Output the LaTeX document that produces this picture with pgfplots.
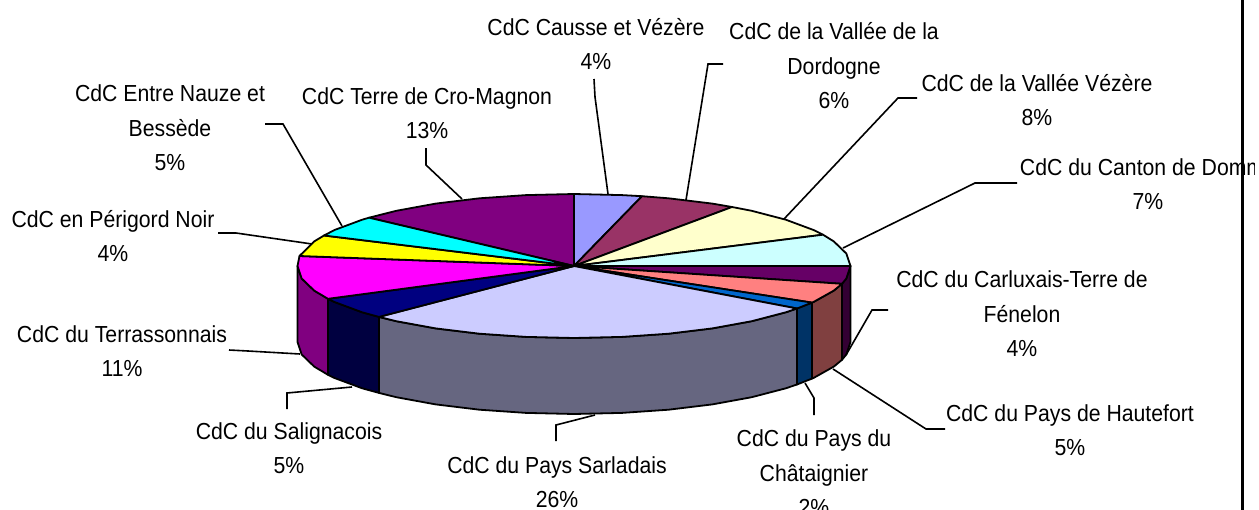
\documentclass[border=0pt]{standalone}
\usepackage{fontspec}
\setmainfont[FakeStretch=0.915]{Liberation Sans}
\usepackage{pgfplots}
\pgfplotsset{compat=1.18}
\definecolor{cA}{HTML}{9999FF}\definecolor{cB}{HTML}{993366}\definecolor{cC}{HTML}{FFFFCC}
\definecolor{cD}{HTML}{CCFFFF}\definecolor{cE}{HTML}{660066}\definecolor{cF}{HTML}{FF8080}
\definecolor{cG}{HTML}{0066CC}\definecolor{cH}{HTML}{CCCCFF}\definecolor{cI}{HTML}{000080}
\definecolor{cJ}{HTML}{FF00FF}\definecolor{cK}{HTML}{FFFF00}\definecolor{cL}{HTML}{00FFFF}
\definecolor{cM}{HTML}{800080}
\definecolor{sE}{HTML}{330033}\definecolor{sF}{HTML}{804040}\definecolor{sG}{HTML}{003366}
\definecolor{sH}{HTML}{666680}\definecolor{sI}{HTML}{000040}\definecolor{sJ}{HTML}{800080}
\tikzset{lab/.style={align=center,inner sep=0pt,font=\fontsize{17.4}{25.9}\selectfont}}
\pgfplotsset{pie/.style={draw=black,line width=1.35pt,line join=round,mark=none},
 lead/.style={draw=black,line width=1.2pt,mark=none}}
\begin{document}
\begin{tikzpicture}
\clip (0,0) rectangle (944.25pt,382.5pt);
\begin{axis}[at={(0,0)},anchor=south west,scale only axis,width=944.25pt,height=382.5pt,
 xmin=0,xmax=1259,ymin=0,ymax=510,y dir=reverse,hide axis,clip=false]
% side wall
\addplot[pie,fill=sJ] coordinates {(297.5,266)(301.7,278.5)(314.2,290.6)(328,298.8)(328,374.8)(314.2,366.6)(301.7,354.5)(297.5,342)} --cycle;
\addplot[pie,fill=sI] coordinates {(328,298.8)(334.5,302)(362.2,312.3)(379,316.9)(379,392.9)(362.2,388.3)(334.5,378)(328,374.8)} --cycle;
\addplot[pie,fill=sH] coordinates {(379,316.9)(396.3,321.2)(435.7,328.4)(479.4,333.7)(526,336.9)(574,338)(622,336.9)(668.6,333.7)(712.3,328.4)(751.7,321.2)(785.8,312.3)(797,308.5)(797,384.5)(785.8,388.3)(751.7,397.2)(712.3,404.4)(668.6,409.7)(622,412.9)(574,414)(526,412.9)(479.4,409.7)(435.7,404.4)(396.3,397.2)(379,392.9)} --cycle;
\addplot[pie,fill=sG] coordinates {(797,308.5)(812,302.6)(812,378.6)(797,384.5)} --cycle;
\addplot[pie,fill=sF] coordinates {(812,302.6)(813.5,302)(833.8,290.6)(842,283.8)(842,359.8)(833.8,366.6)(813.5,378)(812,378.6)} --cycle;
\addplot[pie,fill=sE] coordinates {(842,283.8)(846.3,278.5)(850.5,266)(850.5,342)(846.3,354.5)(842,359.8)} --cycle;
% top face
\addplot[pie,fill=cM] coordinates {(574,266)(369,217.7)(396.3,210.8)(435.7,203.6)(479.4,198.3)(526,195.1)(574,194)} --cycle;
\addplot[pie,fill=cA] coordinates {(574,266)(574,194)(622,195.1)(642,196.2)} --cycle;
\addplot[pie,fill=cB] coordinates {(574,266)(642,196.2)(668.6,198.3)(712.3,203.6)(732,207)} --cycle;
\addplot[pie,fill=cC] coordinates {(574,266)(732,207)(751.7,210.8)(785.8,219.7)(813.5,230)(823,234.7)} --cycle;
\addplot[pie,fill=cD] coordinates {(574,266)(823,234.7)(833.8,241.4)(846.3,253.5)(850.5,266)} --cycle;
\addplot[pie,fill=cE] coordinates {(574,266)(850.5,266)(846.3,278.5)(842,283.8)} --cycle;
\addplot[pie,fill=cF] coordinates {(574,266)(842,283.8)(833.8,290.6)(813.5,302)(812,302.6)} --cycle;
\addplot[pie,fill=cG] coordinates {(574,266)(812,302.6)(797,308.5)} --cycle;
\addplot[pie,fill=cH] coordinates {(574,266)(797,308.5)(785.8,312.3)(751.7,321.2)(712.3,328.4)(668.6,333.7)(622,336.9)(574,338)(526,336.9)(479.4,333.7)(435.7,328.4)(396.3,321.2)(379,316.9)} --cycle;
\addplot[pie,fill=cI] coordinates {(574,266)(379,316.9)(362.2,312.3)(334.5,302)(328,298.8)} --cycle;
\addplot[pie,fill=cJ] coordinates {(574,266)(328,298.8)(314.2,290.6)(301.7,278.5)(297.5,266)(299.5,256)} --cycle;
\addplot[pie,fill=cK] coordinates {(574,266)(299.5,256)(314.2,241.4)(324,235.5)} --cycle;
\addplot[pie,fill=cL] coordinates {(574,266)(324,235.5)(334.5,230)(362.2,219.7)(369,217.7)} --cycle;
% leader lines
\addplot[lead] coordinates {(594,79)(595,97)(608,194)};
\addplot[lead] coordinates {(723,64)(708,64)(686,200)};
\addplot[lead] coordinates {(917,98)(898,98)(784,219)};
\addplot[lead] coordinates {(1017,183)(975,183)(843,248)};
\addplot[lead] coordinates {(888,310)(872,310)(846,355)};
\addplot[lead] coordinates {(945,429)(926,429)(833,369)};
\addplot[lead] coordinates {(814,415)(814,398)(805,383)};
\addplot[lead] coordinates {(556,441)(556,425)(595,415)};
\addplot[lead] coordinates {(287,409)(287,393)(352,387)};
\addplot[lead] coordinates {(229,350)(248,351)(300,354)};
\addplot[lead] coordinates {(218,233)(236,233)(312,244)};
\addplot[lead] coordinates {(265,124)(283,124)(342,226)};
\addplot[lead] coordinates {(426,148)(426,165)(462,199)};
% page border
\addplot[draw=black,line width=1.6pt,mark=none] coordinates {(1242.5,0)(1242.5,510)};
% labels
\node[lab] at (axis cs:596,44) {CdC Causse et Vézère\\4\%};
\node[lab] at (axis cs:834,66) {CdC de la Vallée de la\\Dordogne\\6\%};
\node[lab] at (axis cs:1037,100) {CdC de la Vallée Vézère\\8\%};
\begin{scope}
\clip (axis cs:0,0) rectangle (axis cs:1254,510);
\node[lab] at (axis cs:1148,184) {CdC du Canton de Domme\\7\%};
\end{scope}
\node[lab] at (axis cs:1022,314) {CdC du Carluxais-Terre de\\Fénelon\\4\%};
\node[lab] at (axis cs:1070,430) {CdC du Pays de Hautefort\\5\%};
\node[lab] at (axis cs:814,473) {CdC du Pays du\\Châtaignier\\2\%};
\node[lab] at (axis cs:557,482) {CdC du Pays Sarladais\\26\%};
\node[lab] at (axis cs:289,448) {CdC du Salignacois\\5\%};
\node[lab] at (axis cs:122,351) {CdC du Terrassonnais\\11\%};
\node[lab] at (axis cs:113,236) {CdC en Périgord Noir\\4\%};
\node[lab] at (axis cs:170,128) {CdC Entre Nauze et\\Bessède\\5\%};
\node[lab] at (axis cs:427,113) {CdC Terre de Cro-Magnon\\13\%};
\end{axis}
\end{tikzpicture}
\end{document}
